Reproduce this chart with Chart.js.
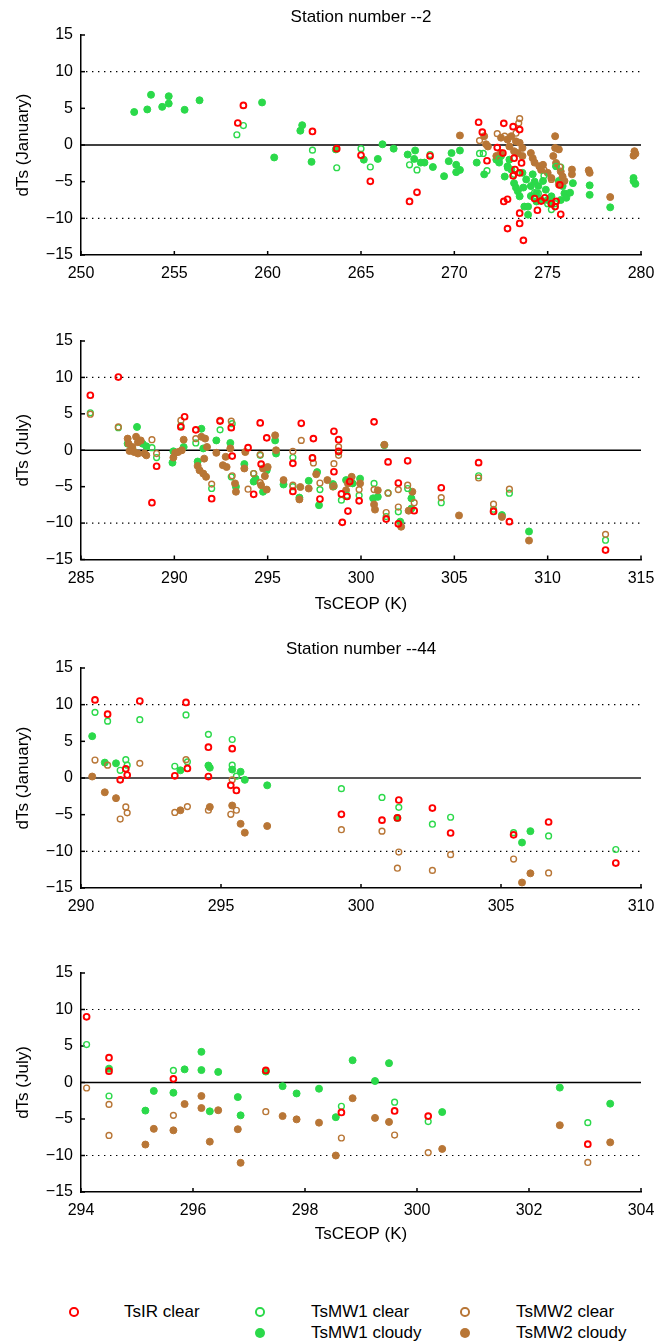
<!DOCTYPE html>
<html>
<head>
<meta charset="utf-8">
<script src="https://cdn.jsdelivr.net/npm/chart.js@4/dist/chart.umd.min.js"></script>
<style>
  body { margin: 0; background: #fff; font-family: "Liberation Sans", Arial, sans-serif; }
  #page { position: relative; width: 665px; height: 1342px; overflow: hidden; }
  .panel { position: absolute; left: 0; width: 665px; }
  .mk { position: absolute; border-radius: 50%; box-sizing: border-box; }
  .lg { position: absolute; font-size: 17px; line-height: 20px; color: #000; white-space: nowrap; }
</style>
</head>
<body>
<div id="page">
  <div class="panel" style="top:0px;height:290px"><canvas id="c1" width="665" height="290"></canvas></div>
  <div class="panel" style="top:300px;height:330px"><canvas id="c2" width="665" height="330"></canvas></div>
  <div class="panel" style="top:630px;height:290px"><canvas id="c3" width="665" height="290"></canvas></div>
  <div class="panel" style="top:920px;height:340px"><canvas id="c4" width="665" height="340"></canvas></div>
  <div id="legend"></div>
</div>
<script>
// series colours
const RED = '#ff0000';
const GREEN = '#2bd94a';
const BROWN = '#b87636';

// y axis is the same everywhere
const yTicks = [-15, -10, -5, 0, 5, 10, 15];
const dottedAt = [-10, 10];
const solidAt = [0];

// ---- Station 2, January ----
const p1Ir = [[258.4,3.0],[258.7,5.4],[262.4,1.85],[263.7,-0.5],[265.0,-1.4],[265.5,-4.95],[267.6,-7.7],[268.0,-6.45],
  [268.7,-1.5],[271.3,3.1],[271.5,1.75],[271.75,-2.15],[272.3,-0.35],[272.6,-1.1],[272.65,2.95],[272.65,-7.7],
  [272.85,-7.4],[272.85,-11.4],[273.15,2.5],[273.15,-4.2],[273.2,-1.8],[273.25,-3.35],[273.5,2.1],[273.5,-9.3],
  [273.5,-10.7],[273.6,-2.45],[273.5,-3.8],[273.7,-13.0],[274.3,-7.3],[274.45,-8.9],[274.65,-7.65],[274.85,-7.2],
  [275.2,-8.0],[275.4,-8.4],[275.45,-7.7],[275.65,-5.45],[275.7,-9.45]];
const p1Mw1Clear = [[258.35,1.4],[258.7,2.65],[262.4,-0.7],[263.7,-3.1],[265.0,-0.5],[265.5,-3.0],[267.6,-2.7],[268.0,-3.4],
  [268.7,-1.3],[271.35,-1.15],[271.55,-1.15],[271.75,-3.5],[272.4,-1.9],[272.85,-3.1],[273.2,-4.0],[274.3,-6.5],
  [274.5,-6.6],[274.8,-4.2],[275.2,-8.8],[275.45,-2.9],[275.7,-3.0],[275.4,-8.0],[275.0,-8.0]];
const p1Mw1Cloudy = [[252.85,4.5],[253.55,4.85],[253.75,6.85],[254.35,5.2],[254.7,6.65],[254.7,5.65],[255.55,4.8],
  [256.35,6.1],[259.7,5.8],[260.35,-1.7],[261.75,1.95],[261.85,2.7],[262.35,-2.3],[263.65,-0.6],[265.15,-2.0],
  [265.9,-1.9],[266.15,0.1],[266.75,-0.5],[267.5,-1.3],[267.85,-1.9],[267.9,-0.75],[268.2,-2.4],[268.4,-2.4],
  [268.85,-3.0],[269.45,-4.25],[269.7,-2.2],[269.85,-1.1],[270.1,-2.7],[270.1,-3.7],[270.3,-0.75],[270.3,-3.4],
  [271.2,-2.4],[271.6,-4.0],[272.25,-2.0],[272.4,-2.4],[272.5,-1.5],[272.7,-4.3],[272.85,-2.9],[272.95,-2.0],
  [273.05,-3.35],[273.2,-5.2],[273.3,-5.8],[273.4,-6.3],[273.5,-7.0],[273.65,-3.8],[273.7,-5.8],[273.75,-8.4],
  [273.85,-4.7],[273.95,-9.5],[273.95,-8.4],[274.1,-5.6],[274.1,-6.95],[274.2,-4.0],[274.3,-5.0],[274.4,-6.6],
  [274.4,-7.7],[274.5,-5.6],[274.65,-7.5],[274.75,-4.9],[274.9,-6.1],[275.0,-7.5],[275.2,-7.0],[275.2,-8.0],
  [275.45,-2.9],[275.6,-4.9],[275.7,-7.5],[275.8,-5.6],[275.9,-6.6],[276.0,-7.2],[276.2,-6.5],[276.35,-5.2],
  [277.25,-5.5],[277.25,-6.8],[278.35,-8.5],[279.6,-4.5],[279.6,-4.9],[279.7,-5.3]];
const p1Mw2Clear = [[271.35,0.6],[272.3,1.55],[272.7,1.2],[273.5,3.6],[273.45,3.0],[273.3,1.6],[274.8,-3.4],
  [275.2,-4.7],[275.65,-3.0]];
const p1Mw2Cloudy = [[270.3,1.3],[271.6,1.2],[271.7,0.1],[271.8,-0.2],[272.5,1.0],[272.85,0.75],[272.95,-0.2],
  [273.05,1.2],[273.3,0.5],[273.5,0.3],[273.65,-0.4],[272.5,-1.1],[272.25,-1.5],[273.2,-0.85],[273.4,-1.1],
  [273.65,-1.5],[274.1,-1.1],[274.2,-1.8],[274.3,-2.4],[274.55,-2.9],[274.65,-3.4],[274.75,-2.7],[275.0,-3.8],
  [275.2,-4.5],[275.4,1.2],[275.4,-0.4],[275.6,-0.6],[275.3,-1.5],[275.45,-2.45],[275.7,-3.6],[275.8,-4.3],
  [275.9,-4.9],[275.6,-5.4],[276.3,-3.35],[276.3,-4.0],[277.2,-3.45],[277.25,-3.8],[278.35,-7.1],[279.65,-0.85],
  [279.6,-1.45],[279.7,-1.2]];

// ---- Station 2, July ----
const p2Ir = [[285.5,7.55],[287.0,10.05],[288.8,-7.2],[289.05,-2.2],[290.35,3.2],[290.55,4.6],[291.15,2.8],[292.0,-6.65],
  [292.45,4.0],[293.05,3.1],[293.1,-0.8],[293.95,0.35],[294.25,-6.05],[294.6,3.75],[294.65,-1.9],[294.95,1.7],
  [296.35,-1.8],[296.35,-5.65],[296.8,3.7],[297.45,1.6],[297.4,-1.05],[297.8,-6.7],[298.55,2.6],[298.55,-2.95],
  [298.8,1.45],[298.8,-0.15],[298.95,-6.0],[299.0,-9.9],[299.25,-6.35],[299.3,-8.35],[299.4,-4.3],[299.9,-6.95],
  [300.7,3.9],[301.35,-9.45],[301.45,-1.6],[302.0,-4.5],[302.0,-10.1],[302.5,-1.45],[302.85,-8.3],[304.3,-5.15],
  [306.3,-1.7],[307.1,-8.4],[307.95,-9.8],[313.1,-13.7]];
const p2Mw1Clear = [[285.5,5.15],[287.0,3.1],[288.8,0.35],[289.05,-1.0],[290.35,3.4],[291.15,1.0],[292.0,-5.25],
  [292.45,2.8],[293.05,-3.65],[293.1,3.65],[294.25,-3.2],[294.6,-0.7],[296.35,-1.0],[296.35,-5.0],[297.4,-1.05],
  [297.8,-5.4],[298.55,-4.95],[298.8,-0.25],[298.95,-6.85],[299.25,-6.2],[299.9,-6.2],[300.7,-4.55],[301.45,-5.85],
  [301.35,-9.1],[302.0,-8.45],[302.5,-5.25],[304.3,-7.2],[306.3,-3.5],[307.1,-8.1],[307.95,-5.9],[313.1,-12.35]];
const p2Mw1Cloudy = [[288.0,3.2],[287.5,0.9],[287.75,0.25],[288.3,0.9],[288.5,0.55],[289.9,-1.7],[289.95,-0.15],
  [290.5,0.45],[291.45,2.95],[291.25,-1.55],[291.55,0.25],[292.25,1.35],[293.0,1.0],[293.3,-5.0],[293.75,-1.9],
  [294.25,-4.3],[294.35,-3.9],[294.75,-5.7],[294.95,-2.75],[295.4,1.35],[295.45,-0.45],[295.85,-4.7],[296.7,-6.5],
  [297.2,-4.2],[297.65,-3.0],[297.75,-7.55],[298.5,-4.65],[299.2,-4.1],[299.55,-4.55],[299.95,-3.9],[300.65,-6.6],
  [300.9,-6.4],[301.25,0.7],[302.1,-9.8],[302.7,-6.6],[302.7,-8.0],[307.55,-8.9],[309.0,-11.15]];
const p2Mw2Clear = [[285.5,4.95],[287.0,3.2],[288.8,1.45],[289.05,-0.45],[290.35,4.1],[291.15,1.6],[292.0,-4.65],
  [292.45,4.1],[293.05,4.0],[293.1,-3.5],[293.95,-5.35],[294.25,-3.2],[294.6,-4.45],[294.6,-0.6],[296.35,-0.15],
  [296.35,-4.8],[296.8,1.35],[297.45,-1.75],[297.8,-4.5],[298.55,-4.9],[298.55,-1.85],[298.8,0.45],[298.8,-0.7],
  [299.9,-5.4],[300.7,-5.4],[301.45,-5.9],[301.35,-8.55],[302.0,-5.4],[302.0,-7.8],[302.5,-4.8],[302.85,-7.2],
  [304.3,-6.5],[306.3,-3.8],[307.1,-7.4],[307.95,-5.35],[313.1,-11.55]];
const p2Mw2Cloudy = [[287.5,1.6],[287.55,0.9],[287.75,0.45],[287.95,1.85],[288.05,1.1],[288.2,1.35],[288.05,-0.45],
  [288.4,-0.45],[288.5,-0.7],[287.6,-0.1],[287.85,-0.25],[289.95,-1.0],[290.05,-0.35],[290.2,-0.25],[290.4,0.0],
  [290.5,1.45],[291.25,-2.15],[291.35,-2.75],[291.45,1.85],[291.55,-3.2],[291.65,1.6],[291.7,-3.65],[291.6,-1.15],
  [291.75,0.45],[292.25,-0.35],[292.6,-2.05],[292.75,-0.9],[292.8,-2.3],[293.0,0.25],[293.25,-4.55],[293.3,-5.7],
  [293.75,-2.5],[293.8,-0.25],[294.75,-2.5],[294.85,-3.55],[294.95,-5.4],[294.65,-4.8],[295.0,-2.3],[295.4,2.05],
  [295.45,0.0],[295.85,-4.1],[296.7,-6.75],[296.75,-5.05],[297.2,-5.25],[297.6,-3.3],[298.2,-4.1],[298.5,-5.0],
  [299.2,-5.5],[299.3,-4.55],[299.5,-3.65],[299.95,-4.55],[300.7,-7.45],[300.75,-8.15],[300.9,-5.5],[301.25,0.75],
  [302.15,-10.5],[302.55,-8.3],[302.75,-5.7],[305.25,-8.95],[307.55,-9.15],[309.0,-12.4]];

// ---- Station 44, January ----
const p3Ir = [[290.5,10.65],[290.95,8.7],[291.6,1.25],[291.65,0.4],[291.4,-0.25],[292.1,10.5],[293.35,0.3],
  [293.75,10.3],[293.8,1.3],[294.55,4.2],[294.55,0.2],[295.4,4.0],[295.35,-1.0],[295.55,-1.7],[299.3,-4.95],
  [300.75,-5.75],[301.35,-3.0],[301.3,-5.45],[302.55,-4.1],[303.2,-7.5],[305.45,-7.75],[306.7,-6.0],[309.1,-11.6]];
const p3Mw1Clear = [[290.5,8.95],[290.95,7.75],[291.6,2.5],[291.4,1.05],[291.65,1.75],[292.1,7.95],[293.35,1.6],
  [293.75,8.6],[293.8,2.2],[294.55,5.95],[295.4,5.25],[295.4,1.75],[295.55,0.25],[299.3,-1.45],[300.75,-2.65],
  [301.35,-4.0],[302.55,-6.3],[303.2,-5.35],[305.45,-7.45],[306.7,-7.9],[309.1,-9.75]];
const p3Mw1Cloudy = [[290.4,5.7],[290.85,2.1],[291.25,2.0],[293.55,1.05],[294.55,1.7],[294.6,1.4],[295.4,1.15],
  [295.7,0.85],[295.85,-0.25],[296.65,-1.0],[301.3,-5.45],[305.75,-8.8],[306.05,-7.25]];
const p3Mw2Clear = [[290.5,2.45],[290.95,1.75],[291.4,-5.6],[291.6,-3.95],[291.65,-4.75],[292.1,2.0],[293.35,-4.7],
  [293.75,2.5],[293.8,-3.9],[294.55,-4.4],[295.35,-4.95],[295.4,-0.25],[295.55,-4.4],[299.3,-7.05],[300.75,-7.25],
  [301.35,-10.1],[301.3,-12.3],[302.55,-12.6],[303.2,-10.45],[305.45,-11.05],[306.7,-12.95]];
const p3Mw2Cloudy = [[290.4,0.2],[290.85,-1.95],[291.25,-2.75],[293.55,-4.4],[294.6,-3.95],[295.4,-3.75],
  [295.7,-6.25],[295.85,-7.45],[296.65,-6.55],[305.75,-14.25],[306.05,-13.0]];

// ---- Station 44, July ----
const p4Ir = [[294.1,9.0],[294.5,3.4],[294.5,1.55],[295.65,0.5],[297.3,1.65],[298.65,-4.1],[299.6,-3.9],
  [300.2,-4.6],[303.05,-8.45]];
const p4Mw1Clear = [[294.1,5.2],[294.5,-1.85],[295.65,1.65],[297.3,1.55],[298.65,-3.25],[299.6,-2.7],[300.2,-5.35],
  [303.05,-5.5]];
const p4Mw1Cloudy = [[294.5,1.9],[295.15,-3.85],[295.3,-1.15],[295.65,-1.4],[295.85,1.8],[296.15,1.7],[296.15,4.2],
  [296.3,-3.95],[296.45,1.45],[296.8,-2.0],[296.85,-4.5],[297.3,1.5],[297.6,-0.5],[297.85,-1.5],[298.25,-0.85],
  [298.55,-4.75],[298.85,3.05],[299.25,0.2],[299.5,2.65],[300.45,-4.05],[302.55,-0.7],[303.45,-2.9]];
const p4Mw2Clear = [[294.1,-0.75],[294.5,-3.0],[294.5,-7.25],[295.65,-4.5],[297.3,-4.0],[298.65,-7.6],[299.6,-7.2],
  [300.2,-9.6],[303.05,-10.95]];
const p4Mw2Cloudy = [[295.15,-8.5],[295.3,-6.35],[295.65,-6.55],[295.85,-2.95],[296.15,-3.5],[296.15,-1.85],
  [296.3,-8.1],[296.45,-3.8],[296.8,-6.4],[296.85,-11.0],[297.6,-4.6],[297.85,-5.05],[298.25,-5.5],[298.55,-10.0],
  [298.85,-2.15],[299.25,-4.85],[299.5,-5.4],[300.45,-9.1],[302.55,-5.85],[303.45,-8.2]];

const pts = arr => arr.map(([x, y]) => ({ x, y }));
const minus = v => (v < 0 ? '\u2212' + Math.abs(v) : String(v));

// reference lines and inward tick marks
const frame = {
  id: 'frame',
  beforeDatasetsDraw(chart, args, opts) {
    const { ctx, chartArea: a, scales: { x, y } } = chart;
    const seg = (x1, y1, x2, y2) => { ctx.beginPath(); ctx.moveTo(x1, y1); ctx.lineTo(x2, y2); ctx.stroke(); };
    ctx.save();
    ctx.strokeStyle = '#000';
    ctx.lineWidth = 1.2;
    ctx.setLineDash([1.4, 4.6]);
    dottedAt.forEach(v => { const py = y.getPixelForValue(v); seg(a.left + 5, py, a.right, py); });
    ctx.setLineDash([]);
    ctx.strokeStyle = opts.zeroColor || '#000';
    ctx.lineWidth = opts.zeroWidth || 1.5;
    solidAt.forEach(v => { const py = y.getPixelForValue(v); seg(a.left, py, a.right, py); });
    ctx.strokeStyle = '#000';
    ctx.lineWidth = 1.5;
    x.ticks.forEach((t, i) => { const px = x.getPixelForTick(i); seg(px, a.bottom, px, a.bottom - 4); });
    y.ticks.forEach((t, i) => { const py = y.getPixelForTick(i); seg(a.left, py, a.left + 4, py); });
    ctx.restore();
  }
};

function series(ir, mw1c, mw1d, mw2c, mw2d) {
  const open = (data, color, w, order) => ({
    data: pts(data), order, pointRadius: 2.9, borderWidth: w,
    borderColor: color, backgroundColor: 'rgba(0,0,0,0)', pointStyle: 'circle'
  });
  const full = (data, color, order) => ({
    data: pts(data), order, pointRadius: 3.5, borderWidth: 1,
    borderColor: color, backgroundColor: color, pointStyle: 'circle'
  });
  return [
    Object.assign(open(ir, RED, 1.9, 0), { label: 'TsIR clear' }),
    Object.assign(open(mw1c, GREEN, 1.4, 2), { label: 'TsMW1 clear' }),
    Object.assign(full(mw1d, GREEN, 4), { label: 'TsMW1 cloudy' }),
    Object.assign(open(mw2c, BROWN, 1.4, 1), { label: 'TsMW2 clear' }),
    Object.assign(full(mw2d, BROWN, 3), { label: 'TsMW2 cloudy' })
  ];
}

function panel(id, o) {
  return new Chart(document.getElementById(id), {
    type: 'scatter',
    data: { datasets: o.datasets },
    plugins: [frame],
    options: {
      responsive: false,
      animation: false,
      events: [],
      devicePixelRatio: 1,
      layout: { padding: { left: 0, right: 24, top: o.padTop, bottom: 0 } },
      plugins: {
        legend: { display: false },
        tooltip: { enabled: false },
        frame: { zeroColor: o.zeroColor, zeroWidth: o.zeroWidth },
        title: {
          display: !!o.title, text: o.title, fullSize: false, color: '#000',
          font: { size: 17, weight: 'normal', lineHeight: 1.2 },
          padding: o.titlePad || 0
        }
      },
      scales: {
        x: {
          type: 'linear', min: o.xMin, max: o.xMax,
          afterBuildTicks: s => { s.ticks = o.xTicks.map(v => ({ value: v })); },
          afterFit: s => { s.height = o.xHeight; },
          grid: { display: false, drawTicks: false },
          border: { display: true, color: '#000', width: 1.5 },
          ticks: { color: '#000', font: { size: 16 }, padding: 9, maxRotation: 0, autoSkip: false, callback: minus },
          title: {
            display: !!o.xTitle, text: o.xTitle, color: '#000',
            font: { size: 17 }, padding: { top: 0, bottom: 15.5 }
          }
        },
        y: {
          type: 'linear', min: -15, max: 15,
          afterBuildTicks: s => { s.ticks = yTicks.map(v => ({ value: v })); },
          afterFit: s => { s.width = 81; },
          grid: { display: false, drawTicks: false },
          border: { display: true, color: '#000', width: 1.5 },
          ticks: { color: '#000', font: { size: 16 }, padding: 8, callback: minus },
          title: {
            display: true, text: o.yTitle, color: '#000',
            font: { size: 17 }, padding: { top: 13, bottom: 0 }
          }
        }
      }
    }
  });
}

const range = (a, b, s) => { const r = []; for (let v = a; v <= b; v += s) r.push(v); return r; };

panel('c1', {
  title: 'Station number --2', titlePad: { top: 7, bottom: 7.6 }, padTop: 0,
  xMin: 250, xMax: 280, xTicks: range(250, 280, 5), xHeight: 35, yTitle: 'dTs (January)',
  datasets: series(p1Ir, p1Mw1Clear, p1Mw1Cloudy, p1Mw2Clear, p1Mw2Cloudy)
});
panel('c2', {
  padTop: 41,
  xMin: 285, xMax: 315, xTicks: range(285, 315, 5), xHeight: 70.5, xTitle: 'TsCEOP (K)', yTitle: 'dTs (July)',
  datasets: series(p2Ir, p2Mw1Clear, p2Mw1Cloudy, p2Mw2Clear, p2Mw2Cloudy)
});
panel('c3', {
  title: 'Station number --44', titlePad: { top: 8.8, bottom: 8.8 }, padTop: 0,
  xMin: 290, xMax: 310, xTicks: range(290, 310, 5), xHeight: 32, yTitle: 'dTs (January)',
  zeroColor: '#555', zeroWidth: 2.2,
  datasets: series(p3Ir, p3Mw1Clear, p3Mw1Cloudy, p3Mw2Clear, p3Mw2Cloudy)
});
panel('c4', {
  padTop: 53,
  xMin: 294, xMax: 304, xTicks: range(294, 304, 2), xHeight: 68, xTitle: 'TsCEOP (K)', yTitle: 'dTs (July)',
  datasets: series(p4Ir, p4Mw1Clear, p4Mw1Cloudy, p4Mw2Clear, p4Mw2Cloudy)
});

// legend (three columns, like the original figure)
const legendItems = [
  { text: 'TsIR clear', color: RED, filled: false, mx: 74, tx: 124, cy: 1312 },
  { text: 'TsMW1 clear', color: GREEN, filled: false, mx: 260, tx: 311, cy: 1312 },
  { text: 'TsMW1 cloudy', color: GREEN, filled: true, mx: 260, tx: 311, cy: 1333 },
  { text: 'TsMW2 clear', color: BROWN, filled: false, mx: 465, tx: 516, cy: 1312 },
  { text: 'TsMW2 cloudy', color: BROWN, filled: true, mx: 465, tx: 516, cy: 1333 }
];
const lg = document.getElementById('legend');
legendItems.forEach(it => {
  const m = document.createElement('div');
  m.className = 'mk';
  const d = it.filled ? 10 : 9.5;
  m.style.width = d + 'px';
  m.style.height = d + 'px';
  m.style.left = (it.mx - d / 2) + 'px';
  m.style.top = (it.cy - d / 2) + 'px';
  if (it.filled) m.style.background = it.color;
  else m.style.border = '2px solid ' + it.color;
  lg.appendChild(m);
  const t = document.createElement('div');
  t.className = 'lg';
  t.textContent = it.text;
  t.style.left = it.tx + 'px';
  t.style.top = (it.cy - 10) + 'px';
  lg.appendChild(t);
});
</script>
</body>
</html>
